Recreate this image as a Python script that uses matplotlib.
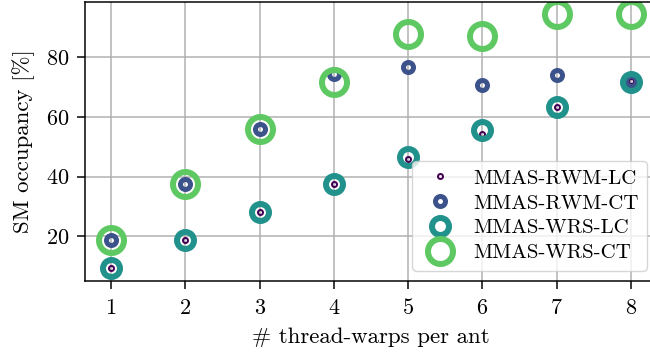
import numpy as np
import matplotlib
matplotlib.use("Agg")
import matplotlib.pyplot as plt

plt.rcParams['font.family'] = 'cmr10'
plt.rcParams['mathtext.fontset'] = 'cm'
plt.rcParams['axes.unicode_minus'] = False
plt.rcParams['axes.formatter.use_mathtext'] = True

x = [1, 2, 3, 4, 5, 6, 7, 8]
rwm_lc = [9.4, 18.8, 28.2, 37.4, 46.0, 54.3, 63.3, 72.1]
rwm_ct = [18.8, 37.4, 56.1, 74.5, 76.9, 70.6, 74.0, 72.1]
wrs_lc = [9.4, 18.8, 28.2, 37.4, 46.5, 55.5, 63.3, 71.8]
wrs_ct = [18.8, 37.4, 56.1, 71.6, 87.8, 87.1, 94.7, 94.7]
labels = ['MMAS-RWM-LC', 'MMAS-RWM-CT', 'MMAS-WRS-LC', 'MMAS-WRS-CT']

PX = 0.72  # points per pixel at dpi 100
colors = ['#440154', '#3b528b', '#21918c', '#5ec962']
ms = [5, 10, 17, 25]
mew = [2, 5, 6, 6]

fig = plt.figure(figsize=(6.5, 3.54), dpi=100)
ax = fig.add_axes([85/650, 1 - 281/354, (657 - 85)/650, 279/354])

for ys, lab, c, m, w in zip([rwm_lc, rwm_ct, wrs_lc, wrs_ct], labels, colors, ms, mew):
    ax.plot(x, ys, linestyle='none', marker='o', markersize=m*PX,
            markerfacecolor='none', markeredgecolor=c, markeredgewidth=w*PX, label=lab)

ax.set_xlim(0.65, 8.35)
ax.set_ylim(5.0, 98.6)
ax.set_xticks(x)
ax.set_yticks([20, 40, 60, 80])
ax.grid(True, color='#b0b0b0', linewidth=1.5*PX)
for s in ['left', 'bottom', 'top', 'right']:
    ax.spines[s].set_linewidth(1.5*PX)
ax.tick_params(labelsize=16, length=6, width=1.5*PX, pad=5)
ax.tick_params(axis='x', pad=6.5)
ax.set_xlabel('# thread-warps per ant', fontsize=16.5, labelpad=6.5)
ax.set_ylabel('SM occupancy [%]', fontsize=16.5, labelpad=8)
ax.legend(loc='lower right', fontsize=15, handletextpad=0.7,
          labelspacing=0.3, handlelength=1.8, borderpad=0.4)

fig.savefig('out.png', dpi=100)
